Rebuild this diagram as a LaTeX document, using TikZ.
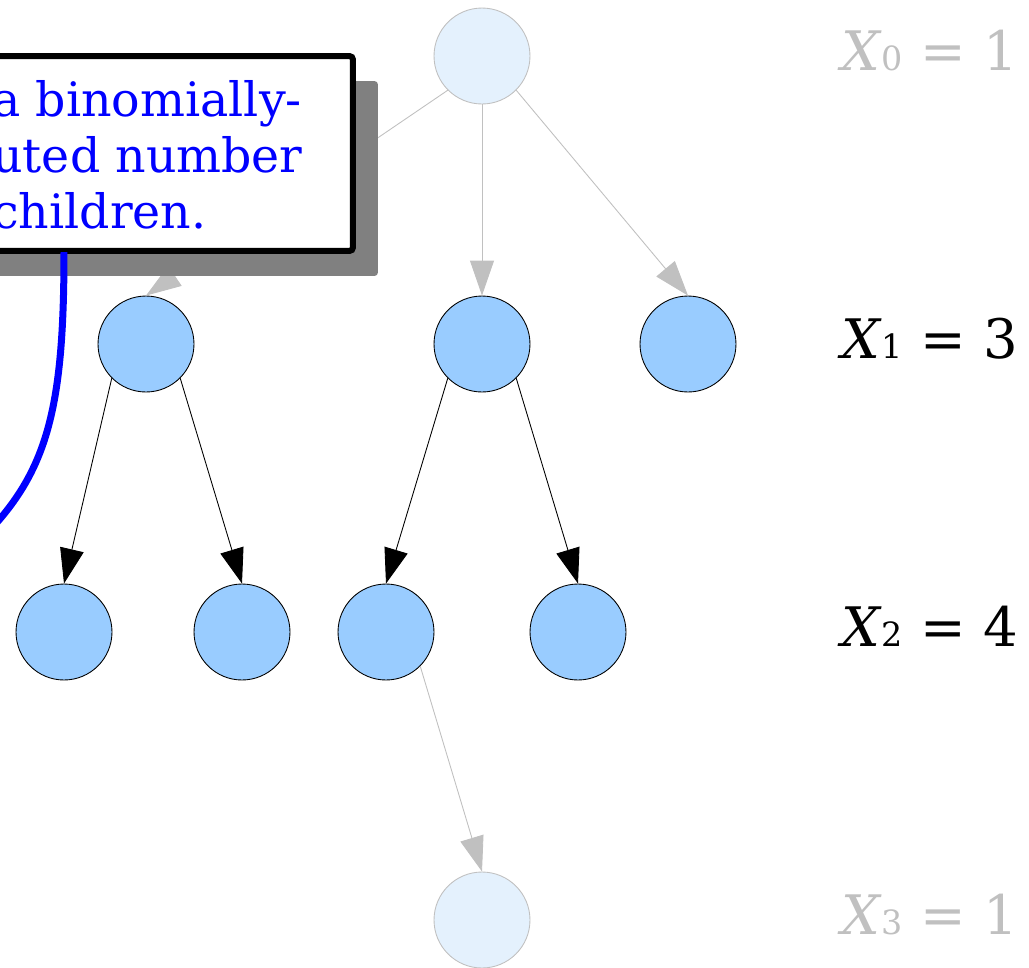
\documentclass[tikz,border=0pt]{standalone}
\usepackage{fontspec}
\setmainfont{DejaVu Serif}
\usetikzlibrary{arrows.meta, shadows}
\definecolor{nodeBlue}{HTML}{99CCFF}
\definecolor{ghostBlue}{HTML}{E4F1FD}
\definecolor{ghostGray}{HTML}{C0C0C0}
\definecolor{noteBlue}{HTML}{0000FF}
\definecolor{shadowGray}{HTML}{808080}
\tikzset{
  kid/.style      = {circle, draw=black, fill=nodeBlue, line width=0.5pt,
                     minimum size=1.92cm, inner sep=0pt},
  ghost/.style    = {circle, draw=ghostGray, fill=ghostBlue, line width=0.5pt,
                     minimum size=1.92cm, inner sep=0pt},
  arrow/.style    = {-{Triangle[length=0.7cm, width=0.48cm]}, line width=0.5pt, draw=black},
  ghostArrow/.style = {-{Triangle[length=0.7cm, width=0.48cm]}, line width=0.5pt, draw=ghostGray},
  callout/.style  = {rectangle, rounded corners=2pt, draw=black, fill=white,
                     line width=0.12cm, inner sep=0pt,
                     drop shadow={fill=shadowGray, opacity=1,
                                  shadow xshift=0.5cm, shadow yshift=-0.5cm}},
  note/.style     = {font=\fontsize{27}{32}\selectfont, text=noteBlue,
                     align=left, inner sep=0pt},
  noteLine/.style = {draw=noteBlue, line width=0.14cm},
  level/.style    = {font=\fontsize{31}{36}\selectfont, inner sep=0pt, anchor=base west}
}
\newcommand{\gen}[2]{\textit{X}{\fontsize{19}{19}\selectfont #1} = #2}

\begin{document}
\begin{tikzpicture}[x=0.02cm, y=-0.02cm]
\clip (0,0) rectangle (1029,968);

% generations
\node[ghost] (root) at (482,56) {};
\node[kid] (a) at (146,344) {};
\node[kid] (b) at (482,344) {};
\node[kid] (c) at (688,344) {};
\node[kid] (aa) at (64,632) {};
\node[kid] (ab) at (242,632) {};
\node[kid] (ba) at (386,632) {};
\node[kid] (bb) at (578,632) {};
\node[ghost] (baa) at (482,920) {};

\draw[ghostArrow] (root.south west) -- (a.north);
\draw[ghostArrow] (root.south) -- (b.north);
\draw[ghostArrow] (root.south east) -- (c.north);
\draw[arrow] (a.south west) -- (aa.north);
\draw[arrow] (a.south east) -- (ab.north);
\draw[arrow] (b.south west) -- (ba.north);
\draw[arrow] (b.south east) -- (bb.north);
\draw[ghostArrow] (ba.south east) -- (baa.north);

% sizes
\node[level, text=ghostGray] (x0) at (841,70) {\gen{0}{1}};
\node[level] (x1) at (841,358) {\gen{1}{3}};
\node[level] (x2) at (841,646) {\gen{2}{4}};
\node[level, text=ghostGray] (x3) at (841,934) {\gen{3}{1}};

% callout
\node[callout, minimum width=8.06cm, minimum height=3.9cm] (box) at (151.5,153.5) {};
\node[note, anchor=west] (boxText) at (-8,155) {a binomially-\\uted number\\children.};
\coordinate (tail) at (64,252);
\coordinate (tailEnd) at (-30,550);
\draw[noteLine] (tail) .. controls (64,420) and (45,480) .. (tailEnd);
\end{tikzpicture}
\end{document}
